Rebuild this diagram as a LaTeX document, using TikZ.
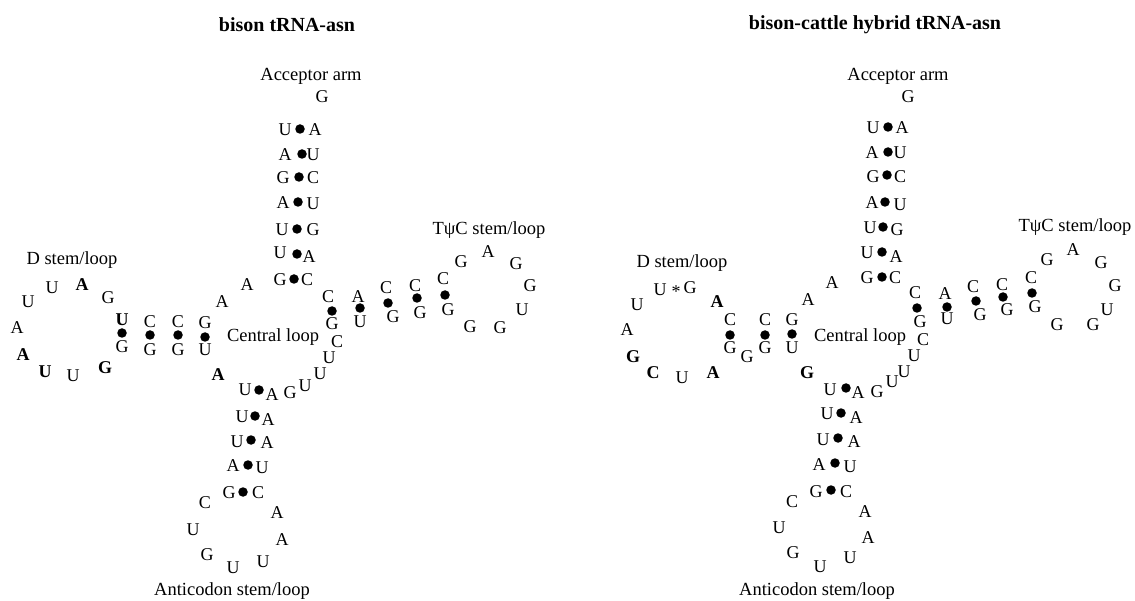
\documentclass[tikz,border=0pt]{standalone}
\usepackage{fontspec}
\setmainfont{Liberation Serif}
\begin{document}
\begin{tikzpicture}[x=1pt,y=-1pt,
  nt/.style={inner sep=0pt,font=\fontsize{18}{18}\selectfont},
  ntb/.style={inner sep=0pt,font=\fontsize{18}{18}\selectfont\bfseries},
  bp/.style={circle,fill=black,inner sep=0pt,minimum size=9.5pt},
  lbl/.style={inner sep=0pt,font=\fontsize{18.5}{18.5}\selectfont},
  ttl/.style={inner sep=0pt,font=\fontsize{20}{20}\selectfont\bfseries}]
\useasboundingbox (0,0) rectangle (1135,601);
% ---------------- left: bison ----------------
\node[ttl] (Lt) at (287,25) {bison tRNA-asn};
\node[lbl] (Lacc) at (311,76) {Acceptor arm};
\node[lbl] (LD) at (72,260) {D stem/loop};
\node[lbl] (LT) at (489,230) {TψC stem/loop};
\node[lbl] (LC) at (273,337) {Central loop};
\node[lbl] (LA) at (232,591) {Anticodon stem/loop};
\foreach \x/\y/\t [count=\i] in {
  322/97/G, 285/130/U, 315/130/A, 285/155/A, 313/155/U, 283/178/G, 313/178/C,
  283/203/A, 313/204/U, 282/230/U, 313/230/G, 280/253/U, 309/257/A, 280/280/G, 307/280/C,
  28/302/U, 52/288/U, 108/298/G, 17/328/A, 73/376/U,
  122/347/G, 150/322/C, 150/350/G, 178/322/C, 178/350/G, 205/323/G, 205/350/U,
  222/302/A, 247/285/A,
  328/297/C, 332/324/G, 337/342/C, 329/358/U, 320/374/U, 305/386/U,
  358/297/A, 360/322/U,
  386/288/C, 393/317/G, 415/286/C, 420/313/G, 443/279/C, 448/310/G,
  461/262/G, 488/252/A, 516/264/G, 530/286/G, 522/310/U, 500/328/G, 470/327/G,
  245/390/U, 272/395/A, 290/393/G,
  242/417/U, 268/420/A, 237/442/U, 267/443/A, 233/466/A, 262/468/U, 229/493/G, 258/493/C,
  205/503/C, 193/530/U, 207/555/G, 233/568/U, 263/562/U, 282/540/A, 277/513/A}
  \node[nt] (Ln\i) at (\x,\y) {\t};
\foreach \x/\y/\t [count=\i] in {
  82/285/A, 23/355/A, 45/372/U, 105/368/G, 122/320/U, 218/375/A}
  \node[ntb] (Lb\i) at (\x,\y) {\t};
\foreach \x/\y [count=\i] in {
  300/129, 302/154, 299/177, 298/202, 297/229, 297/254, 294/279,
  122/333, 150/335, 178/335, 205/337,
  332/311, 360/308, 388/303, 417/298, 445/295,
  259/390, 255/416, 251/440, 248/465, 243/492}
  \node[bp] (Ld\i) at (\x,\y) {};
% ---------------- right: hybrid ----------------
\node[ttl] (Rt) at (875,25) {bison-cattle hybrid tRNA-asn};
\node[lbl] (Racc) at (898,76) {Acceptor arm};
\node[lbl] (RD) at (682,263) {D stem/loop};
\node[lbl] (RT) at (1075,227) {TψC stem/loop};
\node[lbl] (RC) at (860,337) {Central loop};
\node[lbl] (RA) at (817,591) {Anticodon stem/loop};
\foreach \x/\y/\t [count=\i] in {
  908/97/G, 873/128/U, 902/128/A, 872/153/A, 900/153/U, 873/177/G, 900/177/C,
  872/203/A, 900/205/U, 870/228/U, 897/230/G, 867/253/U, 896/257/A, 867/278/G, 895/278/C,
  660/290/U, 690/288/G, 637/305/U, 627/330/A, 682/378/U,
  730/320/C, 730/348/G, 747/357/G, 765/320/C, 765/348/G, 792/320/G, 792/348/U,
  808/300/A, 832/283/A,
  915/293/C, 920/322/G, 923/340/C, 914/356/U, 904/372/U, 892/382/U,
  945/294/A, 947/319/U,
  973/287/C, 980/315/G, 1002/285/C, 1007/310/G, 1031/278/C, 1035/307/G,
  1047/260/G, 1073/250/A, 1101/263/G, 1115/286/G, 1107/310/U, 1093/325/G, 1057/325/G,
  830/390/U, 858/393/A, 877/392/G,
  827/414/U, 856/418/A, 823/440/U, 854/442/A, 819/465/A, 850/467/U, 816/492/G, 846/492/C,
  792/502/C, 779/528/U, 793/553/G, 820/567/U, 850/558/U, 868/538/A, 865/512/A}
  \node[nt] (Rn\i) at (\x,\y) {\t};
\node[nt] (Rstar) at (676,292) {*};
\foreach \x/\y/\t [count=\i] in {
  633/357/G, 653/373/C, 713/373/A, 717/302/A, 807/373/G}
  \node[ntb] (Rb\i) at (\x,\y) {\t};
\foreach \x/\y [count=\i] in {
  888/127, 888/152, 887/175, 885/202, 883/227, 882/252, 882/277,
  730/335, 765/335, 792/334,
  917/308, 947/307, 976/301, 1003/297, 1032/293,
  846/388, 841/413, 838/438, 835/463, 831/490}
  \node[bp] (Rd\i) at (\x,\y) {};
\end{tikzpicture}
\end{document}
